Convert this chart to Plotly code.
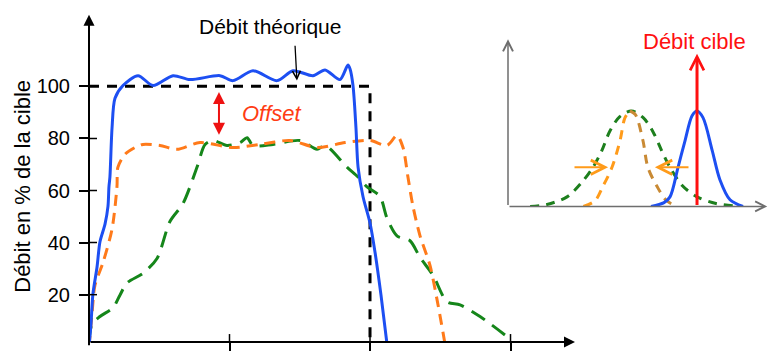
import plotly.graph_objects as go

FONT = "Liberation Sans, Arial, sans-serif"

# ---- main chart: flow over time, % of target ----
y_ticks = [20, 40, 60, 80, 100]
x_ticks = [1, 2, 3]

theo_x = [0, 2, 2]
theo_y = [100, 100, 0]

blue_x = [0.000, 0.014, 0.028, 0.057, 0.078, 0.114, 0.135, 0.142, 0.149, 0.164, 0.185,
          0.242, 0.349, 0.456, 0.598, 0.719, 0.932, 1.025, 1.167, 1.338, 1.452, 1.594,
          1.680, 1.786, 1.843, 1.858, 1.879, 1.900, 1.915, 1.950, 2.000, 2.036, 2.078, 2.121]
blue_y = [0.0, 8.6, 20.3, 30.5, 40.3, 47.1, 53.9, 61.4, 65.2, 84.0, 95.4,
          100.3, 104.1, 100.3, 104.1, 102.6, 104.1, 102.2, 106.0, 102.2, 106.0, 104.1,
          106.3, 102.6, 108.2, 106.7, 100.3, 84.1, 69.0, 57.7, 47.5, 36.2, 19.9, 1.0]

orange_x = [0.000, 0.021, 0.043, 0.100, 0.164, 0.199, 0.206, 0.256, 0.327, 0.384, 0.505,
            0.626, 0.790, 1.025, 1.217, 1.431, 1.623, 1.822, 2.000, 2.121, 2.192, 2.235,
            2.270, 2.306, 2.356, 2.427, 2.484, 2.534]
orange_y = [0.0, 12.4, 23.7, 32.4, 45.2, 61.4, 69.0, 73.9, 76.5, 77.7, 77.3,
            75.8, 78.4, 76.5, 77.7, 79.2, 76.5, 78.4, 79.2, 77.3, 81.1, 76.5,
            65.2, 53.9, 42.6, 31.2, 16.1, 1.0]

green_x = [0.000, 0.021, 0.078, 0.171, 0.221, 0.270, 0.384, 0.484, 0.577, 0.669, 0.769,
           0.826, 0.883, 0.982, 1.075, 1.125, 1.167, 1.310, 1.502, 1.623, 1.680, 1.836,
           1.915, 1.979, 2.071, 2.121, 2.192, 2.285, 2.356, 2.448, 2.548, 2.641, 2.783, 2.961]
green_y = [1.8, 8.6, 11.6, 15.0, 19.9, 24.5, 28.2, 33.9, 48.2, 55.0, 69.0,
           77.7, 79.2, 77.3, 78.4, 80.3, 77.3, 77.7, 79.2, 75.8, 77.3, 69.0,
           65.2, 61.4, 57.7, 49.4, 42.6, 40.7, 34.3, 27.5, 17.3, 16.1, 11.6, 4.5]

# ---- inset: distribution of flow around the target ----
in_green_x = [0.085, 0.15, 0.227, 0.28, 0.327, 0.36, 0.392, 0.43, 0.475, 0.52, 0.558,
              0.59, 0.623, 0.67, 0.727, 0.80, 0.892]
in_green_y = [0.0, 0.02, 0.10, 0.24, 0.41, 0.58, 0.79, 0.94, 1.0, 0.93, 0.78,
              0.59, 0.41, 0.22, 0.10, 0.03, 0.0]

in_orange_left_x = [0.29, 0.335, 0.365, 0.40, 0.431, 0.45, 0.469]
in_orange_left_y = [0.0, 0.06, 0.21, 0.41, 0.69, 0.93, 1.0]
in_orange_right_x = [0.469, 0.49, 0.519, 0.538, 0.573, 0.61, 0.65]
in_orange_right_y = [1.0, 0.96, 0.69, 0.41, 0.21, 0.06, 0.0]

in_blue_x = [0.55, 0.60, 0.623, 0.654, 0.681, 0.708, 0.727, 0.75, 0.785, 0.815, 0.854, 0.904]
in_blue_y = [0.0, 0.04, 0.10, 0.41, 0.69, 0.95, 1.0, 0.93, 0.59, 0.28, 0.07, 0.0]

target_x = 0.727

# axis ranges
X_MAX = 3.459
Y_MIN, Y_MAX = 1.8, 127.5
IN_X_MAX, IN_Y_MAX = 1.0, 1.75

BLUE = "#1d4ff2"
ORANGE = "#ff7a1a"
GREEN = "#15861a"
RED = "#ff1010"

fig = go.Figure()

main_lines = [
    (theo_x, theo_y, dict(color="black", width=3, dash="10px,8px"), "linear"),
    (green_x, green_y, dict(color=GREEN, width=3, dash="16px,9px"), "spline"),
    (orange_x, orange_y, dict(color=ORANGE, width=3, dash="11px,7px"), "spline"),
    (blue_x, blue_y, dict(color=BLUE, width=3), "spline"),
]
for xs, ys, line, shape in main_lines:
    line = dict(line, shape=shape)
    if shape == "spline":
        line["smoothing"] = 0.8
    fig.add_trace(go.Scatter(x=xs, y=ys, mode="lines", line=line,
                             xaxis="x", yaxis="y", hoverinfo="skip"))

inset_lines = [
    (in_green_x, in_green_y, dict(color="#1d7f1d", width=3, dash="9px,7px")),
    (in_orange_left_x, in_orange_left_y, dict(color="#ff9b1a", width=3, dash="9px,7px")),
    (in_orange_right_x, in_orange_right_y, dict(color="#c98a34", width=3, dash="9px,7px")),
    (in_blue_x, in_blue_y, dict(color=BLUE, width=3)),
]
for xs, ys, line in inset_lines:
    fig.add_trace(go.Scatter(x=xs, y=ys, mode="lines",
                             line=dict(line, shape="spline", smoothing=0.9),
                             xaxis="x2", yaxis="y2", hoverinfo="skip"))

W, H = 768, 351
fig.update_layout(
    width=W, height=H,
    margin=dict(l=0, r=0, t=0, b=0),
    paper_bgcolor="white", plot_bgcolor="white",
    showlegend=False,
    font=dict(family=FONT, size=20, color="black"),
    xaxis=dict(domain=[89 / W, 575 / W], range=[0, X_MAX], tickvals=x_ticks,
               showticklabels=False, ticks="outside", ticklen=9, tickwidth=1.5,
               tickcolor="black", showgrid=False, zeroline=False, showline=False,
               anchor="y"),
    yaxis=dict(domain=[3 / H, 336 / H], range=[Y_MIN, Y_MAX], tickvals=y_ticks,
               ticks="outside", ticklen=9, tickwidth=1.5, tickcolor="black",
               tickfont=dict(size=20, family=FONT, color="black"),
               ticklabelstandoff=5,
               showgrid=False, zeroline=False, showline=False, anchor="x"),
    xaxis2=dict(domain=[508 / W, 1.0], range=[0, IN_X_MAX], visible=False, anchor="y2"),
    yaxis2=dict(domain=[(H - 210) / H, (H - 40) / H], range=[0, IN_Y_MAX],
                visible=False, anchor="x2"),
)

# inner half of the tick marks so they cross the axis lines
for v in y_ticks:
    fig.add_shape(type="line", xref="x", yref="y", xsizemode="pixel", xanchor=0,
                  x0=0, x1=8, y0=v, y1=v, line=dict(color="black", width=1.5))
for v in x_ticks:
    fig.add_shape(type="line", xref="x", yref="y", ysizemode="pixel", yanchor=Y_MIN,
                  y0=0, y1=8, x0=v, x1=v, line=dict(color="black", width=1.5))


def arrow(x, y, ax, ay, xr, yr, color, width, head, size, side="end"):
    fig.add_annotation(x=x, y=y, ax=ax, ay=ay, xref=xr, yref=yr, axref=xr, ayref=yr,
                       text="", showarrow=True, arrowcolor=color, arrowwidth=width,
                       arrowhead=head, startarrowhead=head, arrowsize=size,
                       startarrowsize=size, arrowside=side, standoff=0, startstandoff=0)


def label(x, y, xr, yr, text, size, color, angle=0):
    fig.add_annotation(x=x, y=y, xref=xr, yref=yr, text=text, showarrow=False,
                       xanchor="center", yanchor="middle", textangle=angle,
                       font=dict(size=size, color=color, family=FONT))


# main axes with arrow tips
arrow(0, Y_MAX, 0, 0, "x", "y", "black", 2, 2, 1.1)
arrow(X_MAX, Y_MIN, 0, Y_MIN, "x", "y", "black", 2, 2, 1.1)

# inset axes
arrow(0, IN_Y_MAX, 0, 0, "x2", "y2", "#6e6e6e", 1.5, 5, 1.3)
arrow(IN_X_MAX - 0.003, 0, 0, 0, "x2", "y2", "#6e6e6e", 1.5, 5, 1.3)

# theoretical flow label
label(1.288, 123.0, "x", "y", "Débit théorique", 21, "black")
arrow(1.480, 102.2, 1.466, 116.2, "x", "y", "black", 1.3, 5, 1.2)

# offset between the plateau and the target
arrow(0.925, 81.4, 0.925, 98.4, "x", "y", "#ee1111", 2, 2, 1.2, side="end+start")
label(1.302, 89.7, "x", "y", "<i>Offset</i>", 22, "#ff3c14")

# target flow in the inset
arrow(target_x, 1.6, target_x, 0, "x2", "y2", RED, 3, 5, 0.9)
label(0.719, 1 - 42 / H, "x2", "paper", "Débit cible", 22, RED)

# narrowing of the distribution
arrow(0.385, 0.41, 0.25, 0.41, "x2", "y2", "#ff9b1a", 2, 5, 1.4)
arrow(0.565, 0.41, 0.70, 0.41, "x2", "y2", "#ff9b1a", 2, 5, 1.4)

# y-axis title
label(23 / W, 1 - 190 / H, "paper", "paper", "Débit en % de la cible", 22, "black", -90)

fig.write_html("out.html")
